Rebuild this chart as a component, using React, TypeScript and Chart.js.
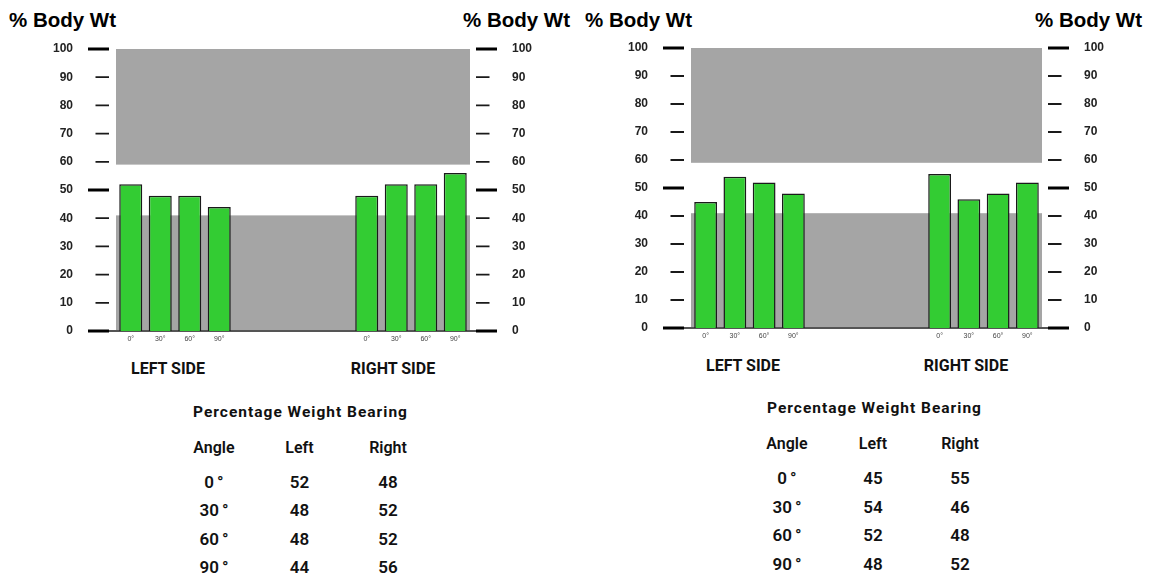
import React, { useEffect, useRef } from 'react';
import { Chart, registerables } from 'chart.js';

Chart.register(...registerables);

// ---------- data ----------
const ANGLES = ['0°', '30°', '60°', '90°'];
const GAP_SLOTS = 4;
const Y_MIN = 0;
const Y_MAX = 100;
const Y_STEP = 10;
const MAJOR_EVERY = 50;
const BAND_LOW = 41; // normal-range gray band 0–41
const BAND_HIGH = 59; // gray band 59–100

const PANEL1_LEFT = [52, 48, 48, 44];
const PANEL1_RIGHT = [48, 52, 52, 56];
const PANEL2_LEFT = [45, 54, 52, 48];
const PANEL2_RIGHT = [55, 46, 48, 52];

const AXIS_TITLE = '% Body Wt';
const SIDE_LABELS = ['LEFT SIDE', 'RIGHT SIDE'];
const TABLE_TITLE = 'Percentage Weight Bearing';
const TABLE_HEADERS = ['Angle', 'Left', 'Right'];

// ---------- styling / layout ----------
const GREEN = '#33cc33';
const GRAY = '#a5a5a5';
const LABEL_FONT = '"Liberation Sans", Arial, sans-serif';
const TEXT_FONT = 'Roboto, "Liberation Sans", Arial, sans-serif';

const CANVAS_TOP = 38;
const CANVAS_W = 575;
const CANVAS_H = 310;
const Y_AXIS_W_LEFT = 63;
const Y_AXIS_W_RIGHT = 62;
const X_AXIS_H = 15;

const LAYOUTS = [
  {
    plotL: 116, plotR: 470, plotT: 49, plotB: 331,
    titleL: 9, titleR: 570, titleTop: 10,
    sideX: [168, 393], sideTop: 361,
    tableTitleX: 300, cols: [214, 299.5, 388], dy: 0,
  },
  {
    plotL: 691, plotR: 1042, plotT: 48, plotB: 328,
    titleL: 585, titleR: 1142, titleTop: 9.5,
    sideX: [743, 966], sideTop: 357.8,
    tableTitleX: 874, cols: [787, 873, 960], dy: -3.4,
  },
];

const bandsTicksPlugin = {
  id: 'bandsTicks',
  beforeDatasetsDraw(chart: any) {
    const { ctx, chartArea: a, scales } = chart;
    const y = scales.y;
    ctx.save();
    ctx.fillStyle = GRAY;
    const yTop = y.getPixelForValue(Y_MAX);
    const yHigh = y.getPixelForValue(BAND_HIGH);
    const yLow = y.getPixelForValue(BAND_LOW);
    const y0 = y.getPixelForValue(Y_MIN);
    ctx.fillRect(a.left, yTop, a.right - a.left, yHigh - yTop);
    ctx.fillRect(a.left, yLow, a.right - a.left, y0 - yLow);
    ctx.strokeStyle = '#555';
    ctx.lineWidth = 2;
    ctx.beginPath();
    ctx.moveTo(a.left - 7, y0);
    ctx.lineTo(a.right + 6, y0);
    ctx.stroke();
    ctx.restore();
  },
  afterDatasetsDraw(chart: any) {
    const { ctx, chartArea: a, scales } = chart;
    const y = scales.y;
    ctx.save();
    y.ticks.forEach((t: any) => {
      const py = y.getPixelForValue(t.value);
      const major = t.value % MAJOR_EVERY === 0;
      const len = major ? 21 : 13.5;
      ctx.lineWidth = major ? 3 : 1.8;
      ctx.strokeStyle = major ? '#000' : '#1a1a1a';
      ctx.beginPath();
      ctx.moveTo(a.left - 7 - len, py);
      ctx.lineTo(a.left - 7, py);
      ctx.moveTo(a.right + 6, py);
      ctx.lineTo(a.right + 6 + len, py);
      ctx.stroke();
    });
    ctx.restore();
  },
};

type Layout = (typeof LAYOUTS)[number];

function BarPanel({ left, right, layout }: { left: number[]; right: number[]; layout: Layout }) {
  const ref = useRef<HTMLCanvasElement | null>(null);
  const canvasLeft = layout.plotL - 116;

  useEffect(() => {
    if (!ref.current) return;
    const labels = [...ANGLES, ...Array(GAP_SLOTS).fill(''), ...ANGLES];
    const data = [...left, ...Array(GAP_SLOTS).fill(null), ...right];
    const yTicks = {
      stepSize: Y_STEP,
      font: { size: 12, weight: 'bold' as const, family: LABEL_FONT },
      color: '#222',
    };
    const fitY = (w: number) => (s: any) => {
      s.width = w;
      s.paddingTop = 0;
      s.paddingBottom = 0;
    };
    const chart = new Chart(ref.current, {
      type: 'bar',
      data: {
        labels,
        datasets: [
          {
            data,
            backgroundColor: GREEN,
            borderColor: '#1a1a1a',
            borderWidth: 1.5,
            categoryPercentage: 1,
            barPercentage: 0.78,
            yAxisID: 'y',
          },
        ],
      },
      options: {
        responsive: false,
        animation: false,
        events: [],
        layout: {
          padding: {
            left: layout.plotL - canvasLeft - Y_AXIS_W_LEFT,
            right: canvasLeft + CANVAS_W - layout.plotR - Y_AXIS_W_RIGHT,
            top: layout.plotT - CANVAS_TOP,
            bottom: CANVAS_TOP + CANVAS_H - layout.plotB - X_AXIS_H,
          },
        },
        plugins: { legend: { display: false }, tooltip: { enabled: false } },
        scales: {
          x: {
            grid: { display: false, drawTicks: false },
            border: { display: false },
            ticks: {
              autoSkip: false,
              maxRotation: 0,
              padding: 4,
              font: { size: 7, family: LABEL_FONT },
              color: '#444',
            },
            afterFit: (s: any) => {
              s.height = X_AXIS_H;
              s.paddingLeft = 0;
              s.paddingRight = 0;
            },
          },
          y: {
            position: 'left',
            min: Y_MIN,
            max: Y_MAX,
            grid: { display: false, drawTicks: false },
            border: { display: false },
            ticks: { ...yTicks, padding: 43 },
            afterFit: fitY(Y_AXIS_W_LEFT),
          },
          y2: {
            position: 'right',
            min: Y_MIN,
            max: Y_MAX,
            grid: { display: false, drawTicks: false },
            border: { display: false },
            ticks: { ...yTicks, padding: 42 },
            afterFit: fitY(Y_AXIS_W_RIGHT),
          },
        },
      },
      plugins: [bandsTicksPlugin],
    });
    return () => chart.destroy();
  }, [left, right, layout]);

  return (
    <canvas
      ref={ref}
      width={CANVAS_W}
      height={CANVAS_H}
      style={{ position: 'absolute', left: canvasLeft, top: CANVAS_TOP, width: CANVAS_W, height: CANVAS_H }}
    />
  );
}

function Centered({ x, top, size, children, weight = 700, spacing = 0 }: any) {
  return (
    <div
      style={{
        position: 'absolute',
        left: x,
        top,
        transform: 'translateX(-50%)',
        fontFamily: TEXT_FONT,
        fontWeight: weight,
        fontSize: size,
        lineHeight: `${size}px`,
        letterSpacing: spacing,
        whiteSpace: 'nowrap',
        color: '#111',
      }}
    >
      {children}
    </div>
  );
}

function Panel({ left, right, layout }: { left: number[]; right: number[]; layout: Layout }) {
  const titleStyle: React.CSSProperties = {
    position: 'absolute',
    top: layout.titleTop,
    fontFamily: LABEL_FONT,
    fontWeight: 700,
    fontSize: 20.5,
    lineHeight: '20.5px',
    color: '#000',
    whiteSpace: 'nowrap',
  };
  const dy = layout.dy;
  return (
    <>
      <div style={{ ...titleStyle, left: layout.titleL }}>{AXIS_TITLE}</div>
      <div style={{ ...titleStyle, right: 1151 - layout.titleR }}>{AXIS_TITLE}</div>
      <BarPanel left={left} right={right} layout={layout} />
      {SIDE_LABELS.map((s, i) => (
        <Centered key={s} x={layout.sideX[i]} top={layout.sideTop} size={16}>{s}</Centered>
      ))}
      <Centered x={layout.tableTitleX + 0.5} top={404.7 + dy} size={15.5} spacing={1}>{TABLE_TITLE}</Centered>
      {TABLE_HEADERS.map((h, i) => (
        <Centered key={h} x={layout.cols[i]} top={439.6 + dy} size={16} weight={600}>{h}</Centered>
      ))}
      {ANGLES.map((a, r) => (
        <React.Fragment key={a}>
          <Centered x={layout.cols[0]} top={473.8 + dy + r * 28.4} size={17} weight={600}>
            <span>{a.slice(0, -1)}</span>
            <span style={{ marginLeft: 3 }}>{a.slice(-1)}</span>
          </Centered>
          <Centered x={layout.cols[1]} top={473.8 + dy + r * 28.4} size={17} weight={600}>{left[r]}</Centered>
          <Centered x={layout.cols[2]} top={473.8 + dy + r * 28.4} size={17} weight={600}>{right[r]}</Centered>
        </React.Fragment>
      ))}
    </>
  );
}

export default function App() {
  return (
    <div
      style={{
        position: 'absolute',
        left: 0,
        top: 0,
        width: 1151,
        height: 578,
        overflow: 'hidden',
        background: '#fff',
      }}
    >
      <Panel left={PANEL1_LEFT} right={PANEL1_RIGHT} layout={LAYOUTS[0]} />
      <Panel left={PANEL2_LEFT} right={PANEL2_RIGHT} layout={LAYOUTS[1]} />
    </div>
  );
}
